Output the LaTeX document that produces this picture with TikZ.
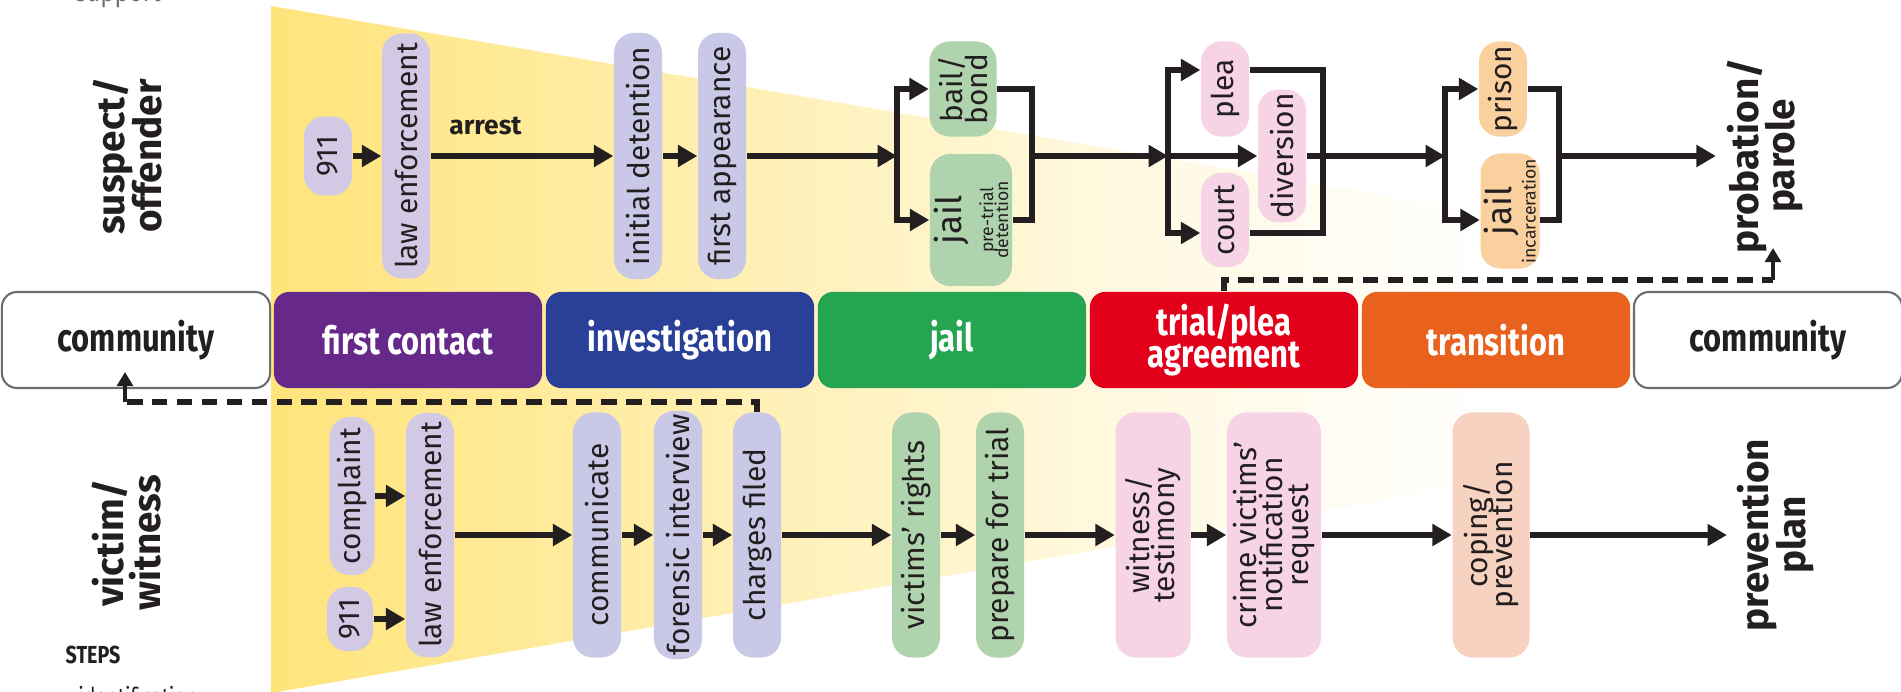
\documentclass[tikz,border=0pt]{standalone}
\usepackage{fontspec}
\usepackage{tikz}
\usetikzlibrary{arrows.meta}
\setmainfont{Fira Sans}
\newfontfamily\bandfont[FakeStretch=0.8]{Fira Sans}
\definecolor{ink}{HTML}{231F20}
\definecolor{funyel}{HTML}{FFE47A}
\definecolor{stagepurple}{HTML}{66298A}
\definecolor{stageblue}{HTML}{2A3F98}
\definecolor{stagegreen}{HTML}{26A550}
\definecolor{stagered}{HTML}{E2001A}
\definecolor{stageorange}{HTML}{E8621E}
\definecolor{edgegray}{HTML}{6D6E70}
\definecolor{pilllav}{HTML}{D2C9E4}
\definecolor{pillperi}{HTML}{C9C8E6}
\definecolor{pillgreen}{HTML}{AFD4AD}
\definecolor{pillpink}{HTML}{F6D4E5}
\definecolor{pillpeach}{HTML}{F9D09E}
\definecolor{pillsalmon}{HTML}{F8D2C0}
\pgfdeclarehorizontalshading{funnelfade}{100bp}{color(0bp)=(funyel); color(25bp)=(funyel); color(45bp)=(funyel!55!white); color(60bp)=(funyel!22!white); color(75bp)=(white); color(100bp)=(white)}
\lineskiplimit=-20pt

\tikzset{
  stage/.style={rounded corners=0.15cm, minimum width=2.68cm, minimum height=0.96cm, inner sep=0pt, align=center, text=white, font={\bandfont\bfseries\fontsize{11}{9}\selectfont}},
  pill/.style={rounded corners=0.2cm, rotate=90, inner sep=1pt, align=center, text=ink, minimum height=0.48cm, font={\fontsize{8.5}{7.3}\selectfont}},
  lav/.style={pill, fill=pilllav},
  peri/.style={pill, fill=pillperi},
  grn/.style={pill, fill=pillgreen},
  pnk/.style={pill, fill=pillpink},
  side/.style={rotate=90, align=center, text=ink, inner sep=0.1cm, font={\bfseries\fontsize{11}{10.5}\selectfont}},
  flow/.style={draw=ink, line width=1.5pt},
  arr/.style={flow, -{Triangle[length=5.5pt,width=6pt]}},
  dashln/.style={draw=ink, line width=1.7pt, dash pattern=on 4.5pt off 2.6pt},
  smallarr/.style={draw=ink, line width=1.2pt, -{Triangle[length=4pt,width=4.5pt]}}
}

\begin{document}
\begin{tikzpicture}[x=0.01cm, y=-0.01cm]
\useasboundingbox (0,0) rectangle (1901,691);
% fading funnel behind everything
\shade[shading=funnelfade] (271,6) -- (1500,215) -- (1500,480) -- (271,693) -- cycle;

% notes cut by the edges
\node[anchor=base, text=edgegray, font={\bandfont\fontsize{8.5}{8.5}\selectfont}] (support) at (118,2) {support};
\node[text=ink, font={\bandfont\bfseries\fontsize{7}{7}\selectfont}] (steps) at (93,655) {STEPS};
\node[anchor=north west, inner sep=0pt, text=ink, font={\bandfont\fontsize{7}{7}\selectfont}] (ident) at (66,686) {\textbullet\ identification};

% stages
\node[stage, draw=edgegray, fill=white, text=ink, line width=0.6pt] (commL) at (136,340) {community};
\foreach \n/\x/\c/\t in {contact/408/stagepurple/first contact, invest/680/stageblue/investigation, jailst/952/stagegreen/jail, trial/1224/stagered/{trial/plea\\agreement}, transit/1496/stageorange/transition}
  \node[stage, fill=\c] (\n) at (\x,340) {\t};
\node[stage, draw=edgegray, fill=white, text=ink, line width=0.6pt] (commR) at (1768,340) {community};

% side labels
\node[side] (suspect) at (128,156) {suspect/\\offender};
\node[side] (victim) at (127,543) {victim/\\witness};
\node[side] (probation) at (1765,156) {probation/\\parole};
\node[side] (prevplan) at (1776,535) {prevention\\plan};

% suspect / offender row
\node[lav, minimum width=0.79cm] (ninet) at (328,156) {911};
\node[lav, minimum width=2.45cm] (lawtop) at (406,156) {law enforcement};
\node[peri, minimum width=2.46cm] (initdet) at (638,156) {initial detention};
\node[peri, minimum width=2.46cm] (firstapp) at (722,156) {first appearance};
\node[grn, minimum width=0.95cm, minimum height=0.67cm, font={\fontsize{8.5}{7}\selectfont}] (bail) at (963,89) {bail/\\bond};
\node[grn, minimum width=1.32cm, minimum height=0.82cm, font={\fontsize{5}{4.3}\selectfont}] (jailpre) at (971,220) {{\fontsize{10}{10}\selectfont jail}\\[4.8pt]pre-trial\\detention};
\node[pnk, minimum width=0.95cm] (plea) at (1225,89) {plea};
\node[pnk, minimum width=1.27cm] (diversion) at (1282,156) {diversion};
\node[pnk, minimum width=0.94cm] (court) at (1225,220) {court};
\node[pill, fill=pillpeach, minimum width=0.95cm] (prison) at (1503,89) {prison};
\node[pill, fill=pillpeach, minimum width=1.15cm, minimum height=0.59cm, font={\fontsize{5}{4.3}\selectfont}] (jailinc) at (1510,211) {{\fontsize{10}{10}\selectfont jail}\\[2.5pt]incarceration};

\coordinate (jsplit) at (897,156);
\coordinate (jmerge) at (1032,156);
\coordinate (tsplit) at (1168,156);
\coordinate (tmerge) at (1323,156);
\coordinate (psplit) at (1445,156);
\coordinate (pmerge) at (1559,156);

\draw[arr] (ninet) -- (lawtop);
\draw[arr] (lawtop) -- node[pos=0.3, above=2pt, text=ink, font={\bfseries\fontsize{7.5}{7.5}\selectfont}] (arrestlbl) {arrest} (initdet);
\draw[arr] (initdet) -- (firstapp);
\draw[arr] (firstapp) -- (jsplit);
\draw[arr] (jsplit) |- (bail);
\draw[arr] (jsplit) |- (jailpre);
\draw[flow] (bail) -| (jmerge) |- (jailpre);
\draw[arr] (jmerge) -- (tsplit);
\draw[arr] (tsplit) |- ([yshift=0.19cm]plea.north);
\draw[arr] (tsplit) -- (diversion);
\draw[arr] (tsplit) |- ([yshift=-0.13cm]court.north);
\draw[flow] ([yshift=0.19cm]plea.south) -| (tmerge) |- ([yshift=-0.13cm]court.south);
\draw[arr] (diversion) -- (psplit);
\draw[arr] (psplit) |- (prison);
\draw[arr] (psplit) |- ([yshift=-0.09cm]jailinc.north);
\draw[flow] (prison) -| (pmerge) |- ([yshift=-0.09cm]jailinc.south);
\draw[arr] (pmerge) -- (probation);

% victim / witness row
\node[lav, minimum width=1.58cm, minimum height=0.45cm] (complaint) at (352,496) {complaint};
\node[lav, minimum width=0.64cm, minimum height=0.46cm] (nineb) at (350,619) {911};
\node[lav, minimum width=2.44cm] (lawbot) at (430,535) {law enforcement};
\node[peri, minimum width=2.45cm] (communicate) at (597,535) {communicate};
\node[peri, minimum width=2.45cm] (forensic) at (678,535) {forensic interview};
\node[peri, minimum width=2.45cm] (charges) at (757,535) {charges filed};
\node[grn, minimum width=2.45cm] (rights) at (916,535) {victims’ rights};
\node[grn, minimum width=2.45cm] (prepare) at (1000,535) {prepare for trial};
\node[pnk, minimum width=2.45cm, minimum height=0.75cm] (witness) at (1153,535) {witness/\\testimony};
\node[pnk, minimum width=2.45cm, minimum height=0.94cm] (notify) at (1274,535) {crime victims’\\notification\\request};
\node[pill, fill=pillsalmon, minimum width=2.45cm, minimum height=0.77cm] (coping) at (1491,535) {coping/\\prevention};

\draw[arr] (complaint) -- (complaint -| lawbot.north);
\draw[arr] (nineb) -- (nineb -| lawbot.north);
\foreach \a/\b in {lawbot/communicate, communicate/forensic, forensic/charges, charges/rights, rights/prepare, prepare/witness, witness/notify, notify/coping, coping/prevplan}
  \draw[arr] (\a) -- (\b);

% dashed returns to the community
\coordinate (cornerL) at (125,402);
\coordinate (tipL) at (125,372);
\draw[dashln] (charges.east) |- (cornerL);
\draw[smallarr] (cornerL) -- (tipL);
\coordinate (cornerR) at (1773,280);
\coordinate (tipR) at (1773,248);
\draw[dashln] (trial.north) |- (cornerR);
\draw[smallarr] (cornerR) -- (tipR);
\end{tikzpicture}
\end{document}
